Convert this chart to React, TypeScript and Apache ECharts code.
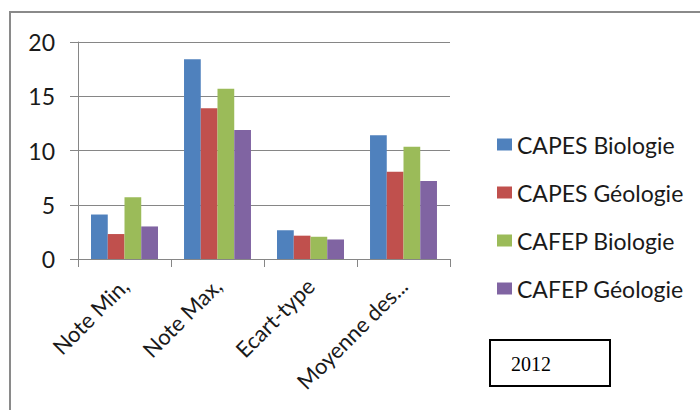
import React, { useEffect, useRef } from "react";
import * as echarts from "echarts";

const categories = ["Note Min,", "Note Max,", "Ecart-type", "Moyenne des..."];
const seriesNames = ["CAPES Biologie", "CAPES Géologie", "CAFEP Biologie", "CAFEP Géologie"];
const capesBiologie = [4.1, 18.4, 2.65, 11.4];
const capesGeologie = [2.3, 13.9, 2.15, 8.05];
const cafepBiologie = [5.7, 15.7, 2.05, 10.35];
const cafepGeologie = [3.0, 11.9, 1.8, 7.2];
const seriesValues = [capesBiologie, capesGeologie, cafepBiologie, cafepGeologie];
const seriesColors = ["#4F81BD", "#C0504D", "#9BBB59", "#8064A2"];
const yearLabel = "2012";

const FONT = "Lato, 'Open Sans', sans-serif";

export default function App() {
  const ref = useRef<HTMLDivElement>(null);

  useEffect(() => {
    document.body.style.margin = "0";
    if (!ref.current) return;
    const chart = echarts.init(ref.current, undefined, { renderer: "svg" });
    chart.setOption({
      animation: false,
      backgroundColor: "#ffffff",
      grid: { left: 78, right: 250, top: 42, bottom: 151 },
      legend: {
        orient: "vertical",
        left: 492,
        top: 127,
        itemWidth: 15,
        itemHeight: 12,
        itemGap: 23,
        icon: "rect",
        textStyle: { fontFamily: FONT, fontSize: 23, color: "#1a1a1a", lineHeight: 25, padding: [0, 0, 0, 0] },
        data: seriesNames,
      },
      xAxis: {
        type: "category",
        data: categories,
        axisLine: { lineStyle: { color: "#868686", width: 1 } },
        axisTick: { show: true, length: 8, lineStyle: { color: "#868686" } },
        axisLabel: {
          rotate: 45,
          margin: 23,
          fontFamily: FONT,
          fontSize: 22,
          color: "#1a1a1a",
        },
      },
      yAxis: {
        type: "value",
        min: 0,
        max: 20,
        interval: 5,
        axisLine: { show: true, lineStyle: { color: "#868686", width: 1 } },
        axisTick: { show: true, length: 8, lineStyle: { color: "#868686" } },
        splitLine: { lineStyle: { color: "#868686", width: 1 } },
        axisLabel: { margin: 23, fontFamily: FONT, fontSize: 23, color: "#1a1a1a" },
      },
      series: seriesNames.map((name, i) => ({
        name,
        type: "bar",
        data: seriesValues[i],
        barGap: "0%",
        barCategoryGap: "28%",
        itemStyle: { color: seriesColors[i] },
      })),
      graphic: [
        {
          type: "polyline",
          shape: { points: [[10, 410], [10, 12], [700, 12]] },
          style: { stroke: "#8a8a8a", lineWidth: 2, fill: "none" },
          silent: true,
        },
        {
          type: "rect",
          shape: { x: 490, y: 340, width: 120, height: 46 },
          style: { stroke: "#000000", lineWidth: 2, fill: "#ffffff" },
          silent: true,
        },
        {
          type: "text",
          x: 511,
          y: 364,
          style: {
            text: yearLabel,
            font: "20px 'Liberation Serif', 'DejaVu Serif', serif",
            fill: "#000000",
            verticalAlign: "middle",
          },
          silent: true,
        },
      ],
    });
    return () => chart.dispose();
  }, []);

  return <div ref={ref} style={{ position: "absolute", left: 0, top: 0, width: 700, height: 410 }} />;
}
